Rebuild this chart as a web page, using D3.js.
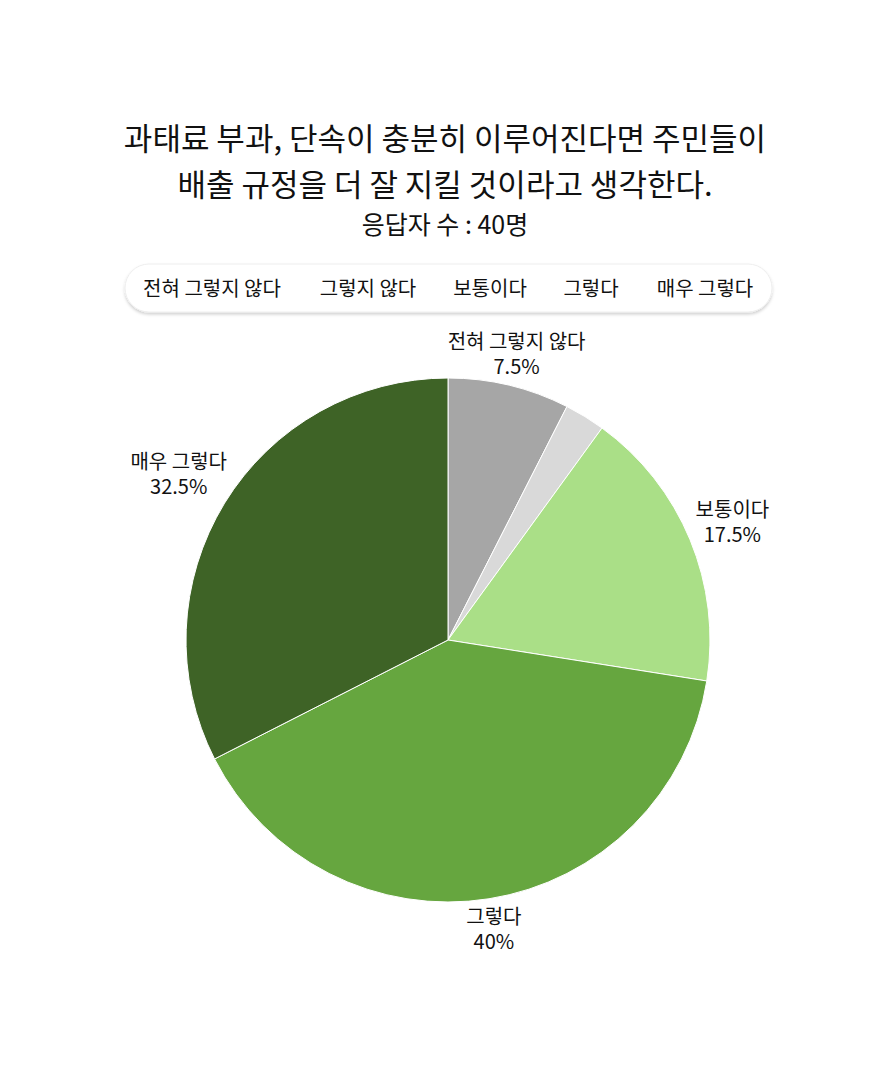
<!DOCTYPE html>
<html>
<head>
<meta charset="utf-8">
<script src="https://cdn.jsdelivr.net/npm/d3@7"></script>
<style>
  html, body { margin: 0; padding: 0; background: #fff; }
  svg { display: block; font-family: "Noto Sans CJK KR", "Noto Sans", sans-serif; }
</style>
</head>
<body>
<svg id="chart" width="890" height="1080"></svg>
<script>
const titleLines = ["과태료 부과, 단속이 충분히 이루어진다면 주민들이", "배출 규정을 더 잘 지킬 것이라고 생각한다."];
const subtitle = "응답자 수 : 40명";
const categories = ["전혀 그렇지 않다", "그렇지 않다", "보통이다", "그렇다", "매우 그렇다"];
const values = [7.5, 2.5, 17.5, 40, 32.5];
const valueLabels = ["7.5%", "2.5%", "17.5%", "40%", "32.5%"];
const showLabel = [true, false, true, true, true];
const colors = ["#a6a6a6", "#d9d9d9", "#aadf87", "#66a63f", "#3e6326"];

const svg = d3.select("#chart");
const W = 890;

// Title
svg.selectAll("text.title").data(titleLines).enter().append("text")
  .attr("class", "title")
  .attr("x", W / 2)
  .attr("y", (d, i) => 150 + i * 46)
  .attr("text-anchor", "middle")
  .attr("font-size", 31)
  .attr("fill", "#111")
  .text(d => d);

svg.append("text")
  .attr("x", W / 2)
  .attr("y", 234)
  .attr("text-anchor", "middle")
  .attr("font-size", 25)
  .attr("fill", "#111")
  .text(subtitle);

// Legend box
const defs = svg.append("defs");
const f = defs.append("filter").attr("id", "sh").attr("x", "-10%").attr("y", "-50%").attr("width", "120%").attr("height", "200%");
f.append("feDropShadow").attr("dx", 0).attr("dy", 2).attr("stdDeviation", 1.6).attr("flood-color", "#000").attr("flood-opacity", 0.18);

svg.append("rect")
  .attr("x", 125).attr("y", 264).attr("width", 647).attr("height", 48)
  .attr("rx", 24).attr("ry", 24)
  .attr("fill", "#fff")
  .attr("stroke", "#eeeeee")
  .attr("filter", "url(#sh)");

const legendX = [212, 368, 490, 591, 705];
svg.selectAll("text.leg").data(categories).enter().append("text")
  .attr("class", "leg")
  .attr("x", (d, i) => legendX[i])
  .attr("y", 296)
  .attr("text-anchor", "middle")
  .attr("font-size", 20)
  .attr("fill", "#111")
  .text(d => d);

// Pie
const cx = 448, cy = 640, R = 262;
const pie = d3.pie().sort(null).value(d => d)(values);
const arc = d3.arc().innerRadius(0).outerRadius(R);
const g = svg.append("g").attr("transform", `translate(${cx},${cy})`);
g.selectAll("path").data(pie).enter().append("path")
  .attr("d", arc)
  .attr("fill", (d, i) => colors[i])
  .attr("stroke", "#fff")
  .attr("stroke-width", 1);

// Labels: two-line label box placed outside the arc along mid-angle
const lineH = 25, boxH = 50, labelR = R + 6;
pie.forEach((p, i) => {
  if (!showLabel[i]) return;
  const a = (p.startAngle + p.endAngle) / 2;
  const vx = Math.sin(a), vy = -Math.cos(a);
  const t = g.append("text").attr("text-anchor", "middle").attr("font-size", 20).attr("fill", "#111");
  const s1 = t.append("tspan").text(categories[i]);
  const s2 = t.append("tspan").text(valueLabels[i]);
  const w = Math.max(s1.node().getComputedTextLength(), s2.node().getComputedTextLength());
  const dx = Math.abs(vx) > 1e-6 ? (w / 2) / Math.abs(vx) : Infinity;
  const dy = Math.abs(vy) > 1e-6 ? (boxH / 2) / Math.abs(vy) : Infinity;
  const d = labelR + Math.min(dx, dy);
  const x = vx * d, y = vy * d;
  s1.attr("x", x).attr("y", y - lineH / 2 + 7);
  s2.attr("x", x).attr("y", y + lineH / 2 + 7);
});
</script>
</body>
</html>
